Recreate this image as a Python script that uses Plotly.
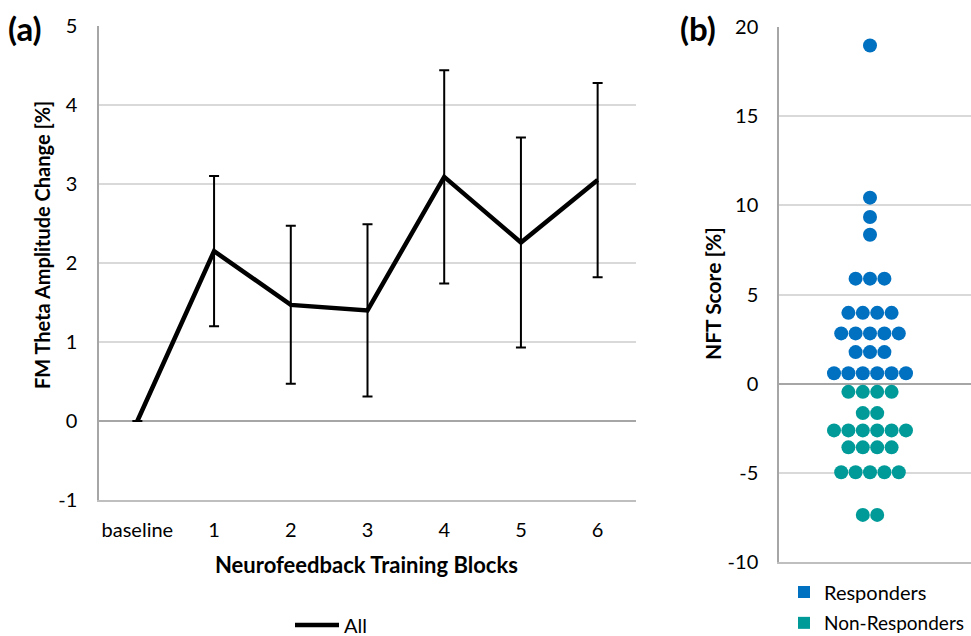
import plotly.graph_objects as go
from collections import Counter

# ---------------- data ----------------
blocks = ["baseline", "1", "2", "3", "4", "5", "6"]
fm_theta_mean = [0.0, 2.15, 1.47, 1.40, 3.09, 2.26, 3.05]
fm_theta_err = [0.0, 0.95, 1.00, 1.09, 1.35, 1.33, 1.23]
fm_ticks = [-1, 0, 1, 2, 3, 4, 5]
fm_ticklabels = ["-1", "0", "1", "2", "3", "4", "5"]

responder_scores = [18.96, 10.43, 9.35, 8.35,
                    5.89, 5.89, 5.89,
                    3.97, 3.97, 3.97, 3.97,
                    2.82, 2.82, 2.82, 2.82, 2.82,
                    1.77, 1.77, 1.77,
                    0.58, 0.58, 0.58, 0.58, 0.58, 0.58]
nonresponder_scores = [-0.46, -0.46, -0.46, -0.46,
                       -1.65, -1.65,
                       -2.62, -2.62, -2.62, -2.62, -2.62, -2.62,
                       -3.57, -3.57, -3.57, -3.57,
                       -4.97, -4.97, -4.97, -4.97, -4.97,
                       -7.36, -7.36]
nft_ticks = [-10, -5, 0, 5, 10, 15, 20]
nft_ticklabels = ["-10", "-5", "0", "5", "10", "15", "20"]

W, H = 971, 636
FONT = "Lato"
BLUE = "#0070C0"
TEAL = "#009B98"
DOT_STEP = 14.4  # horizontal spacing of swarm dots (x-axis units = px)


def px_x(x):
    return x / W


def px_y(y):
    return (H - y) / H


def swarm(values):
    counts = Counter(values)
    seen = Counter()
    xs = []
    for v in values:
        n = counts[v]
        i = seen[v]
        seen[v] += 1
        xs.append((i - (n - 1) / 2) * DOT_STEP)
    return xs


fig = go.Figure()

# (a) line with error bars
fig.add_trace(go.Scatter(
    x=blocks, y=fm_theta_mean, mode="lines", name="All",
    line=dict(color="black", width=4.5),
    error_y=dict(type="data", array=fm_theta_err, visible=True,
                 color="black", thickness=2, width=5),
    xaxis="x", yaxis="y", legend="legend",
))

# (b) swarm
fig.add_trace(go.Scatter(
    x=swarm(responder_scores), y=responder_scores, mode="markers",
    marker=dict(color=BLUE, size=14, line=dict(width=0)),
    xaxis="x2", yaxis="y2", showlegend=False, hoverinfo="y",
))
fig.add_trace(go.Scatter(
    x=swarm(nonresponder_scores), y=nonresponder_scores, mode="markers",
    marker=dict(color=TEAL, size=14, line=dict(width=0)),
    xaxis="x2", yaxis="y2", showlegend=False, hoverinfo="y",
))
# legend entries (square symbols)
fig.add_trace(go.Scatter(x=[None], y=[None], mode="markers", name="Responders",
                         marker=dict(color=BLUE, size=12, symbol="square"),
                         xaxis="x2", yaxis="y2", legend="legend2"))
fig.add_trace(go.Scatter(x=[None], y=[None], mode="markers", name="Non-Responders",
                         marker=dict(color=TEAL, size=12, symbol="square"),
                         xaxis="x2", yaxis="y2", legend="legend3"))

FS = 20
tickfont = dict(family=FONT, size=FS, color="black")

fig.update_layout(
    width=W, height=H,
    margin=dict(l=0, r=0, t=0, b=0, autoexpand=False),
    paper_bgcolor="white", plot_bgcolor="white",
    font=dict(family=FONT, size=FS, color="black"),
    xaxis=dict(domain=[px_x(99), px_x(636)], type="category", range=[-0.5, 6.5],
               showgrid=False, zeroline=False, showline=True, linecolor="#BFBFBF",
               linewidth=1.5, ticks="", tickfont=tickfont, ticklabelstandoff=11,
               anchor="y", fixedrange=True, automargin=False),
    yaxis=dict(domain=[px_y(500), px_y(26)], range=[-1, 5],
               tickvals=fm_ticks, ticktext=fm_ticklabels,
               showgrid=True, gridcolor="#D9D9D9", gridwidth=1.5,
               zeroline=True, zerolinecolor="#A6A6A6", zerolinewidth=1.5,
               showline=True, linecolor="#A6A6A6", linewidth=1.5,
               ticks="", tickfont=tickfont, ticklabelstandoff=16, anchor="x",
               fixedrange=True, automargin=False),
    xaxis2=dict(domain=[px_x(779), 1.0], range=[-91, 101], showticklabels=False,
                showgrid=False, zeroline=False, showline=True, linecolor="#BFBFBF",
                linewidth=1.5, ticks="", anchor="y2", fixedrange=True, automargin=False),
    yaxis2=dict(domain=[px_y(562), px_y(27)], range=[-10, 20],
                tickvals=nft_ticks, ticktext=nft_ticklabels,
                showgrid=True, gridcolor="#D9D9D9", gridwidth=1.5,
                zeroline=True, zerolinecolor="#A6A6A6", zerolinewidth=1.5,
                showline=True, linecolor="#A6A6A6", linewidth=1.5,
                ticks="", tickfont=tickfont, ticklabelstandoff=15, anchor="x2",
                fixedrange=True, automargin=False),
    legend=dict(x=px_x(290), y=px_y(625), xanchor="left", yanchor="middle",
                orientation="h", bgcolor="rgba(0,0,0,0)",
                font=dict(family=FONT, size=FS), itemwidth=44),
    legend2=dict(x=px_x(784), y=px_y(592), xanchor="left", yanchor="middle",
                 orientation="v", bgcolor="rgba(0,0,0,0)",
                 font=dict(family=FONT, size=FS)),
    legend3=dict(x=px_x(784), y=px_y(623), xanchor="left", yanchor="middle",
                 orientation="v", bgcolor="rgba(0,0,0,0)",
                 font=dict(family=FONT, size=19)),
    annotations=[
        dict(text="<b>(a)</b>", x=px_x(6), y=px_y(28), xref="paper", yref="paper",
             showarrow=False, font=dict(size=33), xanchor="left", yanchor="middle"),
        dict(text="<b>(b)</b>", x=px_x(678), y=px_y(28), xref="paper", yref="paper",
             showarrow=False, font=dict(size=33), xanchor="left", yanchor="middle"),
        dict(text="<b>FM Theta Amplitude Change [%]</b>", x=px_x(42), y=px_y(245),
             xref="paper", yref="paper", textangle=-90, showarrow=False,
             font=dict(size=20), xanchor="center", yanchor="middle"),
        dict(text="<b>Neurofeedback Training Blocks</b>", x=px_x(366), y=px_y(564),
             xref="paper", yref="paper", showarrow=False, font=dict(size=22),
             xanchor="center", yanchor="middle"),
        dict(text="<b>NFT Score [%]</b>", x=px_x(712), y=px_y(294),
             xref="paper", yref="paper", textangle=-90, showarrow=False,
             font=dict(size=21), xanchor="center", yanchor="middle"),
    ],
)

fig.write_html(
    "out.html",
    config={"displayModeBar": False},
    post_script="document.body.style.margin='0';document.body.style.overflow='hidden';",
)
